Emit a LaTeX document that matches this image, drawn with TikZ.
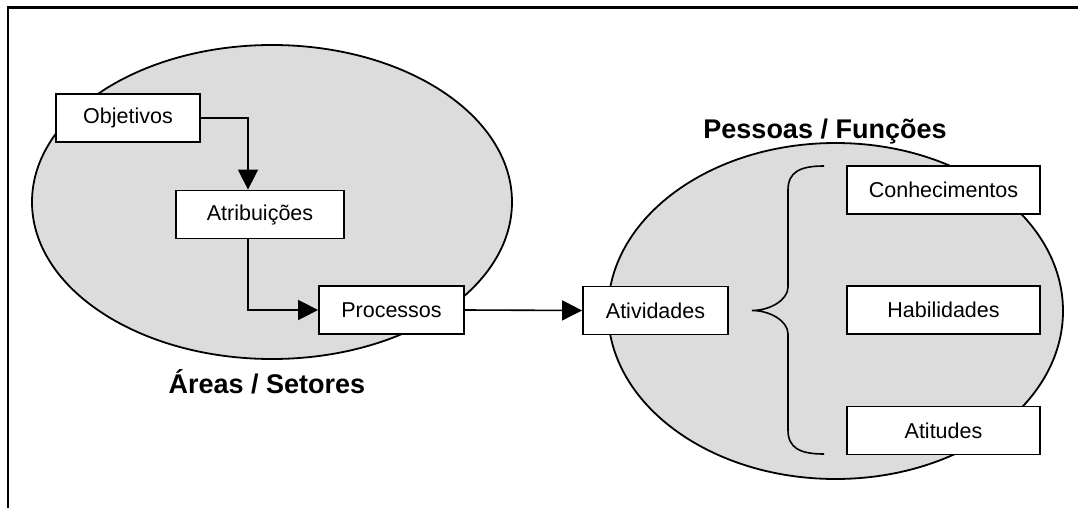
\documentclass[tikz,border=0pt]{standalone}
\usepackage{fontspec}
\setmainfont{Liberation Sans}
\usetikzlibrary{arrows.meta}
\definecolor{ellgray}{RGB}{220,220,220}
\tikzset{
  box/.style={draw=black, line width=1.8pt, fill=white, minimum height=48pt, inner sep=0pt, font=\fontsize{21.5}{25}\selectfont},
  blob/.style={draw=black, line width=1.8pt, fill=ellgray},
  conn/.style={line width=1.6pt, -{Triangle[length=20pt,width=20pt]}},
  title/.style={font=\fontsize{27}{31}\selectfont\bfseries, inner sep=0pt, anchor=base},
}
\begin{document}
\begin{tikzpicture}[x=1pt,y=-1pt]
\useasboundingbox (0,0) rectangle (1078,508);
% frame
\draw[line width=2.6pt] (8,508) -- (8,7.5) -- (1078,7.5);
% ellipses
\path[blob] (272,202) ellipse [x radius=240, y radius=157];
\path[blob] (835.5,311) ellipse [x radius=227.5, y radius=168];
% boxes
\node[box, minimum width=144pt] (obj) at (128,118) {Objetivos};
\node[box, minimum width=168pt] (atr) at (260,214.5) {Atribuições};
\node[box, minimum width=145pt] (pro) at (391.5,310) {Processos};
\node[box, minimum width=145pt] (ati) at (655.5,310.5) {Atividades};
\node[box, minimum width=193pt] (con) at (943.5,190) {Conhecimentos};
\node[box, minimum width=193pt] (hab) at (943.5,310) {Habilidades};
\node[box, minimum width=193pt] (att) at (943.5,430.5) {Atitudes};
% connectors
\coordinate (c1) at (248,118);
\coordinate (c2) at (248,310);
\draw[conn] (obj.east) -- (c1) -- (atr.north -| c1);
\draw[conn] (atr.south -| c2) -- (c2) -- (pro.west);
\draw[conn] (pro.east) -- (ati.west);
% brace
\coordinate (btop) at (824,166);
\coordinate (bbot) at (824,454);
\coordinate (btip) at (752,310.5);
\draw[line width=1.6pt] (btop) .. controls (800,166) and (788,172) .. (788,190)
  -- (788,287) .. controls (788,300) and (770,310.5) .. (btip)
  .. controls (770,310.5) and (788,321) .. (788,334)
  -- (788,430) .. controls (788,448) and (800,454) .. (bbot);
% titles
\node[title] (pf) at (825,139) {Pessoas / Funções};
\node[title] (as) at (267,393) {Áreas / Setores};
\end{tikzpicture}
\end{document}
